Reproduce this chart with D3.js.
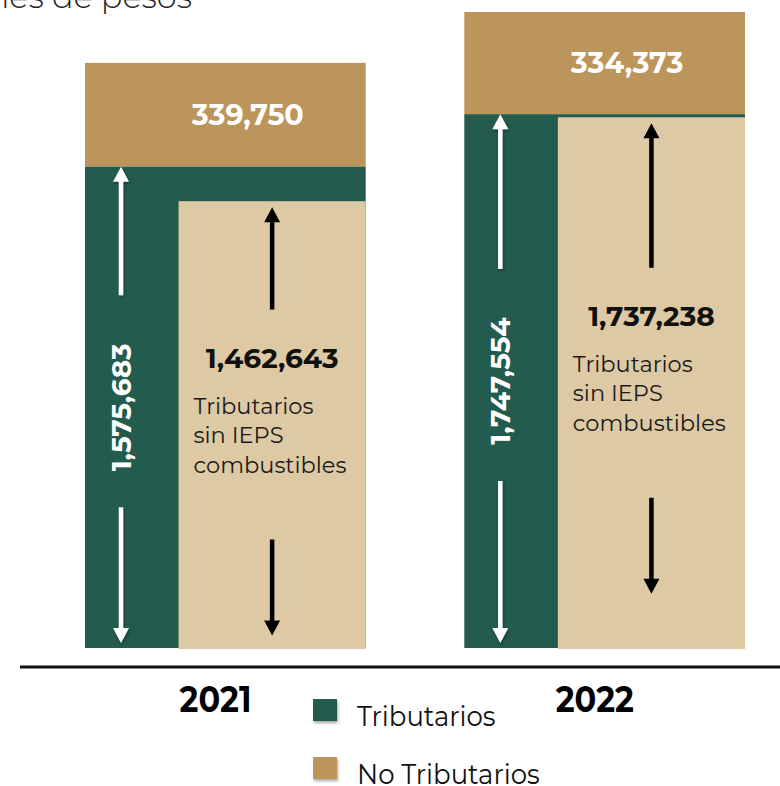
<!DOCTYPE html>
<html>
<head>
<meta charset="utf-8">
<script src="https://cdn.jsdelivr.net/npm/d3@7"></script>
<style>
  body { margin: 0; background: #fff; }
  text { font-family: Montserrat, Inter, "Open Sans", sans-serif; }
</style>
</head>
<body>
<script>
// ingresos presupuestarios, millones de pesos
var years = ["2021", "2022"];
var tributarios = [1575683, 1747554];
var noTributarios = [339750, 334373];
var sinIeps = [1462643, 1737238];
var sinIepsLabel = ["Tributarios", "sin IEPS", "combustibles"];
var legendLabels = ["Tributarios", "No Tributarios"];
var unitsLabel = "Millones de pesos";

var colGreen = "#235B4E", colGold = "#BC955C", colBeige = "#DDC9A3";

var width = 780, height = 786;
var svg = d3.select("body").append("svg")
    .attr("width", width)
    .attr("height", height);

var defs = svg.append("defs");
var shadow = defs.append("filter").attr("id", "shadow")
    .attr("filterUnits", "userSpaceOnUse")
    .attr("x", 0).attr("y", 0).attr("width", width).attr("height", height);
shadow.append("feDropShadow")
    .attr("dx", 1).attr("dy", 2).attr("stdDeviation", 1.5)
    .attr("flood-color", "#000").attr("flood-opacity", 0.35);

var data = years.map(function(d, i) {
    return {year: d, trib: tributarios[i], noTrib: noTributarios[i], sin: sinIeps[i]};
});

var x = d3.scaleBand().domain(years).range([85, 745]).paddingInner(0.26);
var y = d3.scaleLinear()
    .domain([0, d3.max(data, function(d) { return d.trib + d.noTrib; })])
    .range([648, 12]);
var bw = x.bandwidth();
var fmt = d3.format(",");

// units title (cut at the top edge)
svg.append("text")
    .attr("x", 192).attr("y", 8)
    .attr("text-anchor", "end")
    .attr("font-size", 32).attr("font-weight", 300)
    .attr("fill", "#222")
    .text(unitsLabel);

function arrow(g, ax, y1, y2, color, w, filt) {
    // shaft from y1 to y2, head at y2
    var dir = y2 > y1 ? 1 : -1;
    var hl = 15, hw = 8;
    var ys = y2 - dir * hl;
    g.append("path")
        .attr("d", "M" + (ax - w / 2) + "," + y1 + "L" + (ax + w / 2) + "," + y1 +
            "L" + (ax + w / 2) + "," + ys + "L" + (ax + hw) + "," + ys +
            "L" + ax + "," + y2 + "L" + (ax - hw) + "," + ys +
            "L" + (ax - w / 2) + "," + ys + "Z")
        .attr("fill", color)
        .attr("filter", filt ? "url(#shadow)" : null);
}

var bars = svg.selectAll("g.bar")
    .data(data)
    .enter().append("g")
    .attr("class", "bar");

// no tributarios (stacked on top)
bars.append("rect")
    .attr("x", function(d) { return x(d.year); })
    .attr("width", bw)
    .attr("y", function(d) { return y(d.trib + d.noTrib); })
    .attr("height", function(d) { return y(d.trib) - y(d.trib + d.noTrib); })
    .attr("fill", colGold);

// tributarios
bars.append("rect")
    .attr("x", function(d) { return x(d.year); })
    .attr("width", bw)
    .attr("y", function(d) { return y(d.trib); })
    .attr("height", function(d) { return y(0) - y(d.trib); })
    .attr("fill", colGreen);

// tributarios sin IEPS combustibles
bars.append("rect")
    .attr("x", function(d) { return x(d.year) + bw / 3; })
    .attr("width", bw * 2 / 3)
    .attr("y", function(d) { return y(d.sin); })
    .attr("height", function(d) { return y(0) - y(d.sin) + 1; })
    .attr("fill", colBeige);

bars.append("text")
    .attr("x", function(d) { return x(d.year) + bw * 0.58; })
    .attr("y", function(d) { return (y(d.trib + d.noTrib) + y(d.trib)) / 2 + 10; })
    .attr("text-anchor", "middle")
    .attr("font-size", 28.5).attr("font-weight", 700)
    .attr("fill", "#fff")
    .text(function(d) { return fmt(d.noTrib); });

bars.each(function(d) {
    var g = d3.select(this);
    var x0 = x(d.year);

    // green column: rotated total + white arrows
    var gx = x0 + 36;
    var gmid = (y(d.trib) + y(0)) / 2;
    g.append("text")
        .attr("transform", "translate(" + (gx + 10) + "," + gmid + ") rotate(-90)")
        .attr("text-anchor", "middle")
        .attr("font-size", 28).attr("font-weight", 700)
        .attr("fill", "#fff")
        .text(fmt(d.trib));
    arrow(g, gx, gmid - 112, y(d.trib), "#fff", 4.5, true);
    arrow(g, gx, gmid + 100, y(0) - 5, "#fff", 4.5, true);

    // beige column: value, caption + black arrows
    var bx = x0 + bw / 3 + bw / 3;
    var bmid = (y(d.sin) + y(0)) / 2 + 5;
    g.append("text")
        .attr("x", bx).attr("y", bmid - 62)
        .attr("text-anchor", "middle")
        .attr("font-size", 28).attr("font-weight", 700)
        .attr("fill", "#111")
        .text(fmt(d.sin));
    g.append("g").selectAll("text")
        .data(sinIepsLabel)
        .enter().append("text")
        .attr("x", x0 + bw / 3 + 15)
        .attr("y", function(t, i) { return bmid - 16 + i * 29.5; })
        .attr("font-size", 22.5)
        .attr("fill", "#1a1a1a")
        .text(function(t) { return t; });
    arrow(g, bx, bmid - 120, y(d.sin) + 6, "#000", 4.5, false);
    arrow(g, bx, bmid + 110, bmid + 206, "#000", 4.5, false);
});

// base line
svg.append("line")
    .attr("x1", 20).attr("x2", width)
    .attr("y1", 667).attr("y2", 667)
    .attr("stroke", "#111").attr("stroke-width", 3);

// year labels
svg.selectAll("text.year")
    .data(years)
    .enter().append("text")
    .attr("class", "year")
    .attr("transform", function(d) { return "translate(" + (x(d) + bw * 0.465) + ",712) scale(1,1.15)"; })
    .attr("text-anchor", "middle")
    .attr("font-size", 32).attr("font-weight", 700)
    .attr("fill", "#000")
    .text(function(d) { return d; });

// legend
var legend = svg.selectAll("g.legend")
    .data(legendLabels)
    .enter().append("g")
    .attr("class", "legend")
    .attr("transform", function(d, i) { return "translate(313," + (699 + i * 58) + ")"; });

legend.append("rect")
    .attr("width", 24).attr("height", 22)
    .attr("fill", function(d, i) { return i === 0 ? colGreen : colGold; })
    .attr("filter", "url(#shadow)");

legend.append("text")
    .attr("transform", "translate(44,27) scale(1,1.06)")
    .attr("font-size", 26)
    .attr("fill", "#111")
    .text(function(d) { return d; });
</script>
</body>
</html>
